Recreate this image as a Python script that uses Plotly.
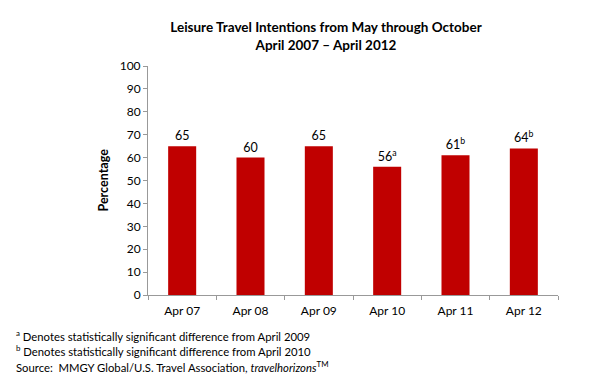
import plotly.graph_objects as go

categories = ["Apr 07", "Apr 08", "Apr 09", "Apr 10", "Apr 11", "Apr 12"]
values = [65, 60, 65, 56, 61, 64]
marks = ["", "", "", "a", "b", "b"]
labels = [f"{v}<sup>{m}</sup>" if m else f"{v}" for v, m in zip(values, marks)]
y_ticks = list(range(0, 101, 10))

FONT = "Lato, Calibri, Carlito, sans-serif"
OFF = 8  # default page body margin
W, H = 592 - OFF, 379 - OFF
L, R, T, B = 148 - OFF, 34, 66 - OFF, 84
PW, PH = W - L - R, H - T - B

fig = go.Figure(go.Bar(
    x=categories, y=values, text=labels, textposition="outside",
    marker=dict(color="#C00000", line=dict(width=0)),
    textfont=dict(family=FONT, size=12.5, color="black"),
    cliponaxis=False,
))

fig.update_layout(
    width=W, height=H,
    margin=dict(l=L, r=R, t=T, b=B, autoexpand=False),
    paper_bgcolor="white", plot_bgcolor="white",
    bargap=0.59,
    showlegend=False,
    font=dict(family=FONT, size=12, color="black"),
    title=dict(
        text="<b>Leisure Travel Intentions from May through October<br>April 2007 – April 2012</b>",
        x=(326 - OFF) / W, xanchor="center", xref="container", y=1 - 24 / H, yanchor="middle",
        yref="container",
        font=dict(family=FONT, size=13.5, color="black"),
    ),
)
fig.update_yaxes(
    range=[0, 100], tickvals=y_ticks, showgrid=False, automargin=False,
    showline=True, linecolor="#999999", linewidth=1,
    ticks="outside", ticklen=4, tickcolor="#999999",
    tickfont=dict(family=FONT, size=12),
    zeroline=False,
)
fig.update_xaxes(
    showline=True, linecolor="#999999", linewidth=1, automargin=False,
    ticks="outside", ticklen=4, tickcolor="#999999", tickson="boundaries",
    tickfont=dict(family=FONT, size=12), ticklabelstandoff=5,
    showgrid=False,
)

fig.add_annotation(
    text="<b>Percentage</b>", textangle=-90, xref="paper", yref="paper",
    x=(103 - 148) / PW, y=0.5, xanchor="center", yanchor="middle", showarrow=False,
    font=dict(family=FONT, size=12.5, color="black"),
)

notes = [
    "<sup>a</sup> Denotes statistically significant difference from April 2009",
    "<sup>b</sup> Denotes statistically significant difference from April 2010",
    "Source:  MMGY Global/U.S. Travel Association, <i>travelhorizons</i><sup>TM</sup>",
]
note_y = [335, 350, 366]
for t, py in zip(notes, note_y):
    fig.add_annotation(
        text=t, xref="paper", yref="paper", x=(14 - 148) / PW, y=(295 - py) / PH,
        xanchor="left", yanchor="middle", showarrow=False, align="left",
        font=dict(family=FONT, size=11.3, color="black"),
    )

fig.write_html("out.html")
